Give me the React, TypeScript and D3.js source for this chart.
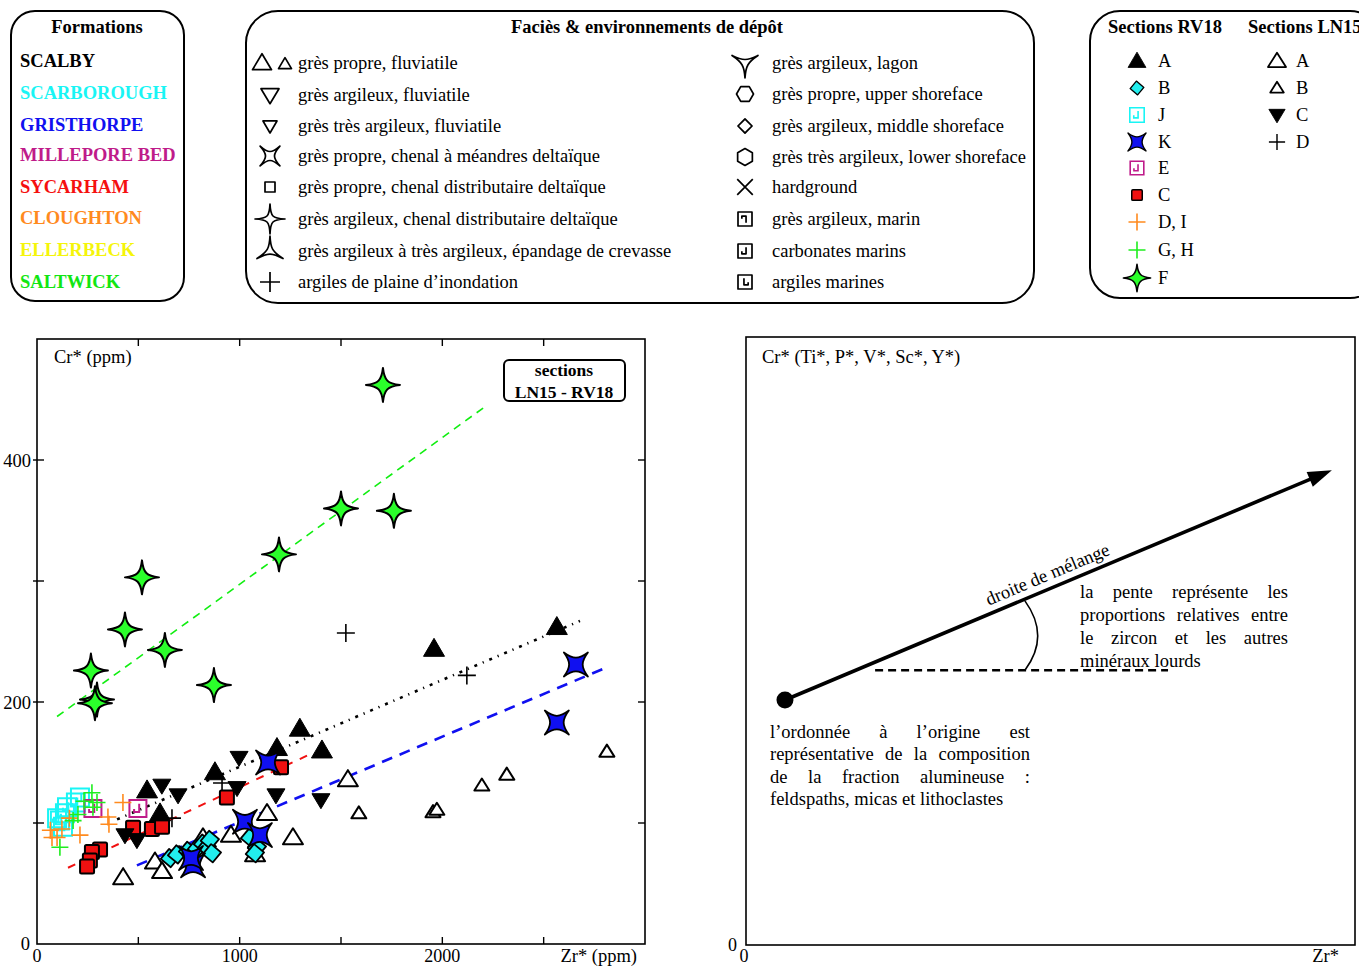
import React from 'react';
import * as d3 from 'd3';

const FONT = "'Liberation Serif', 'Times New Roman', Times, serif";

// ---------------- Data : Zr* (ppm), Cr* (ppm) ----------------
const rv18_F = [[1707, 462], [1500, 360], [1761, 358], [1194, 322], [518, 303], [434, 260], [631, 243], [266, 226], [296, 202], [286, 199], [873, 214]];
const rv18_A = [[2565, 262], [1959, 244], [1297, 178], [1406, 160], [1184, 162], [878, 142], [543, 127], [607, 108]];
const ln15_C = [[616, 131], [696, 123], [434, 90], [493, 86], [997, 154], [987, 129], [1179, 123], [1401, 119]];
const ln15_A = [[425, 55], [582, 68], [617, 60], [957, 90], [1135, 108], [1263, 88], [1076, 74], [819, 88], [1534, 136]];
const ln15_B = [[1588, 108], [1954, 109], [1973, 111], [2195, 131], [2318, 140], [2812, 159]];
const ln15_D = [[1524, 257], [2121, 222], [913, 133], [666, 104]];
const rv18_K = [[2659, 231], [2565, 183], [1140, 150], [1026, 101], [1100, 90], [770, 65], [760, 71]];
const rv18_B = [[656, 71], [691, 74], [745, 77], [789, 79], [819, 83], [838, 80], [853, 86], [863, 75], [1051, 88], [1085, 80], [1075, 75]];
const rv18_C = [[1204, 146], [937, 121], [474, 96], [567, 95], [617, 97], [311, 78], [271, 76], [261, 69], [247, 64]];
const rv18_E = [[498, 112], [276, 112]];
const rv18_J = [[99, 104], [113, 102], [128, 97], [138, 108], [148, 113], [192, 117], [212, 121]];
const rv18_DI = [[74, 88], [66, 94], [99, 88], [123, 95], [160, 104], [212, 90], [350, 105], [355, 99], [424, 117]];
const rv18_GH = [[113, 80], [178, 102], [202, 107], [232, 118], [271, 125], [276, 113], [296, 117]];

// trend lines (start, end)
const trendSaltwick = [[99, 188], [2210, 444]];
const trendScalby = [[395, 103], [2679, 267]];
const trendSycarham = [[153, 63], [1362, 158]];
const trendGristhorpe = [[493, 65], [2817, 229]];

const xTicks = [0, 500, 1000, 1500, 2000, 2500, 3000];
const xTickLabels = [0, 1000, 2000];
const yTicks = [0, 100, 200, 300, 400, 500];
const yTickLabels = [0, 200, 400];

// legend content
const formations = [
  ['SCALBY', '#000000'], ['SCARBOROUGH', '#19f5f5'], ['GRISTHORPE', '#1010f0'], ['MILLEPORE BED', '#bf1b8a'],
  ['SYCARHAM', '#f51010'], ['CLOUGHTON', '#ff8a1e'], ['ELLERBECK', '#f5f50a'], ['SALTWICK', '#12e612'],
];
const faciesLeft = [
  ['triPair', 'grès propre, fluviatile'],
  ['triDownL', 'grès argileux, fluviatile'],
  ['triDownS', 'grès très argileux, fluviatile'],
  ['xstar', 'grès propre, chenal à méandres deltaïque'],
  ['sq', 'grès propre, chenal distributaire deltaïque'],
  ['star4', 'grès argileux, chenal distributaire deltaïque'],
  ['star3up', 'grès argileux à très argileux, épandage de crevasse'],
  ['plus', 'argiles de plaine d’inondation'],
];
const faciesRight = [
  ['star3down', 'grès argileux, lagon'],
  ['hexFlat', 'grès propre, upper shoreface'],
  ['diamondS', 'grès argileux, middle shoreface'],
  ['hexPoint', 'grès très argileux, lower shoreface'],
  ['cross', 'hardground'],
  ['spiral1', 'grès argileux, marin'],
  ['spiral2', 'carbonates marins'],
  ['spiral3', 'argiles marines'],
];
const sectionsRV18 = [
  ['A', 'A'], ['B', 'B'], ['J', 'J'], ['K', 'K'], ['E', 'E'], ['C', 'C'], ['DI', 'D, I'], ['GH', 'G, H'], ['F', 'F'],
];
const sectionsLN15 = [['lA', 'A'], ['lB', 'B'], ['lC', 'C'], ['lD', 'D']];

// schematic (right panel), normalised units
const mixOrigin = [0.064, 0.403];
const mixEnd = [0.962, 0.781];
const horizontalRef = [[0.212, 0.452], [0.693, 0.452]];
const angleArc = [[0.458, 0.566], [0.500, 0.508], [0.458, 0.452]];
const textSlope = ['la pente représente les', 'proportions relatives entre', 'le zircon et les autres', 'minéraux lourds'];
const textOrigin = ['l’ordonnée à l’origine est', 'représentative de la composition', 'de la fraction alumineuse :', 'feldspaths, micas et lithoclastes'];

// ---------------- scales ----------------
const xL = d3.scaleLinear().domain([0, 3000]).range([37, 645]);
const yL = d3.scaleLinear().domain([0, 500]).range([944, 339]);
const xR = d3.scaleLinear().domain([0, 1]).range([746, 1355]);
const yR = d3.scaleLinear().domain([0, 1]).range([945, 337]);

// ---------------- shapes ----------------
const triUp = (w: number, h: number) => `M0,${-h * 0.58}L${w / 2},${h * 0.42}L${-w / 2},${h * 0.42}Z`;
const triDown = (w: number, h: number) => `M0,${h * 0.58}L${w / 2},${-h * 0.42}L${-w / 2},${-h * 0.42}Z`;
// concave star with n points
const starN = (n: number, R: number, k1: number, k2: number, rot: number) => {
  let d = '';
  const P = (ang: number, r: number) => [r * Math.cos((ang * Math.PI) / 180), r * Math.sin((ang * Math.PI) / 180)];
  const step = 360 / n;
  for (let i = 0; i < n; i++) {
    const a = rot + i * step;
    const b = a + step;
    const p0 = P(a, R);
    const p1 = P(b, R);
    const c1 = P(a, R * k1).map((v, j) => v + P(a + 90, R * k2)[j]);
    const c2 = P(b, R * k1).map((v, j) => v + P(b - 90, R * k2)[j]);
    if (i === 0) d += `M${p0[0]},${p0[1]}`;
    d += `C${c1[0]},${c1[1]} ${c2[0]},${c2[1]} ${p1[0]},${p1[1]}`;
  }
  return d + 'Z';
};
const hex = (r: number, rot: number) => {
  const pts = d3.range(6).map((i) => {
    const a = ((rot + i * 60) * Math.PI) / 180;
    return [r * Math.cos(a), r * Math.sin(a)];
  });
  return 'M' + pts.map((p) => p.join(',')).join('L') + 'Z';
};
const spiral = (s: number) =>
  `M${-s},${-s}H${s}V${s}H${-s}Z M${s * 0.15},${-s * 0.55}V${s * 0.4}H${-s * 0.45}V${s * 0.05}`;
const plus = (s: number) => `M${-s},0H${s}M0,${-s}V${s}`;

function Marker({ type, x, y }: { type: string; x: number; y: number }) {
  const t = `translate(${x},${y})`;
  switch (type) {
    case 'A':
      return <path transform={t} d={triUp(21, 18)} fill="#000" stroke="#000" strokeWidth={1} />;
    case 'lA':
      return <path transform={t} d={triUp(20, 16)} fill="#fff" stroke="#000" strokeWidth={2} strokeLinejoin="round" />;
    case 'lB':
      return <path transform={t} d={triUp(15, 12)} fill="#fff" stroke="#000" strokeWidth={2} strokeLinejoin="round" />;
    case 'lC':
      return <path transform={t} d={triDown(18, 15)} fill="#000" stroke="#000" strokeWidth={1} />;
    case 'lD':
      return <path transform={t} d={plus(9)} stroke="#000" strokeWidth={1.6} fill="none" />;
    case 'B':
      return <path transform={t + ' rotate(40)'} d="M-6.5,-6.5H6.5V6.5H-6.5Z" fill="#22eeee" stroke="#000" strokeWidth={1.8} strokeLinejoin="round" />;
    case 'C':
      return <rect transform={t} x={-7} y={-7} width={14} height={14} rx={1.5} fill="#f01010" stroke="#000" strokeWidth={2} />;
    case 'K':
      return <path transform={t} d={starN(4, 17, 0.32, 0.1, 45)} fill="#1010f0" stroke="#000" strokeWidth={1.8} strokeLinejoin="round" />;
    case 'F':
      return <path transform={t} d={starN(4, 17, 0.27, 0.08, -90)} fill="#2bff2b" stroke="#000" strokeWidth={2} strokeLinejoin="round" />;
    case 'E':
      return <path transform={t} d={spiral(8.5)} fill="none" stroke="#bf1b8a" strokeWidth={2} />;
    case 'J':
      return <path transform={t} d={spiral(9)} fill="none" stroke="#19f5f5" strokeWidth={2} />;
    case 'DI':
      return <path transform={t} d={plus(8.5)} stroke="#ff8a1e" strokeWidth={1.6} fill="none" />;
    case 'GH':
      return <path transform={t} d={plus(8.5)} stroke="#1fee1f" strokeWidth={1.6} fill="none" />;
    default:
      return null;
  }
}

function FaciesSymbol({ type, x, y }: { type: string; x: number; y: number }) {
  const t = `translate(${x},${y})`;
  const st = { fill: 'none', stroke: '#000', strokeWidth: 1.7, strokeLinejoin: 'round' as const };
  switch (type) {
    case 'triPair':
      return (
        <g>
          <path transform={`translate(${x - 8},${y})`} d={triUp(19, 16)} {...st} />
          <path transform={`translate(${x + 15},${y + 1})`} d={triUp(13, 11)} {...st} />
        </g>
      );
    case 'triDownL':
      return <path transform={t} d={triDown(18, 15)} {...st} />;
    case 'triDownS':
      return <path transform={t} d={triDown(14, 12)} {...st} />;
    case 'xstar':
      return <path transform={t} d={starN(4, 14, 0.22, 0.05, 45)} {...st} />;
    case 'sq':
      return <rect x={x - 5} y={y - 5} width={10} height={10} {...st} />;
    case 'star4':
      return <path transform={t} d={starN(4, 15, 0.16, 0.04, -90)} {...st} />;
    case 'star3up':
      return <path transform={t} d={starN(3, 15, 0.16, 0.04, -90)} {...st} />;
    case 'plus':
      return <path transform={t} d={plus(10)} {...st} />;
    case 'star3down':
      return <path transform={t} d={starN(3, 15, 0.2, 0.05, 90)} {...st} />;
    case 'hexFlat':
      return <path transform={t} d={hex(8.5, 0)} {...st} />;
    case 'diamondS':
      return <path transform={t + ' rotate(45)'} d="M-5,-5H5V5H-5Z" {...st} />;
    case 'hexPoint':
      return <path transform={t} d={hex(8.5, 90)} {...st} />;
    case 'cross':
      return <path transform={t + ' rotate(45)'} d={plus(11)} {...st} />;
    case 'spiral1':
      return <path transform={t + ' scale(1,-1)'} d={spiral(7)} {...st} />;
    case 'spiral2':
      return <path transform={t} d={spiral(7)} {...st} />;
    case 'spiral3':
      return <path transform={t + ' scale(-1,1)'} d={spiral(7)} {...st} />;
    default:
      return null;
  }
}

let measureCtx: CanvasRenderingContext2D | null = null;
function measure(text: string, font: string) {
  if (!measureCtx) measureCtx = document.createElement('canvas').getContext('2d');
  if (!measureCtx) return text.length * 8;
  measureCtx.font = font;
  return measureCtx.measureText(text).width;
}

function Justified({ x, y, width, text, justify, size }: { x: number; y: number; width: number; text: string; justify: boolean; size: number }) {
  if (!justify) return <text x={x} y={y} fontSize={size}>{text}</text>;
  const words = text.split(' ');
  const font = `${size}px 'Liberation Serif'`;
  const ws = words.map((w) => measure(w, font));
  const total = ws.reduce((a, b) => a + b, 0);
  const gap = (width - total) / (words.length - 1);
  let cx = x;
  return (
    <g fontSize={size}>
      {words.map((w, i) => {
        const last = i === words.length - 1;
        const el = (
          <text key={i} x={last ? x + width : cx} y={y} textAnchor={last ? 'end' : 'start'}>
            {w}
          </text>
        );
        cx += ws[i] + gap;
        return el;
      })}
    </g>
  );
}

const lineGen = d3.line<number[]>().x((d) => xL(d[0])).y((d) => yL(d[1]));
const FS = 18.5;

export default function App() {
  const series: [string, number[][]][] = [
    ['lA', ln15_A],
    ['lB', ln15_B],
    ['lD', ln15_D],
    ['B', rv18_B],
    ['C', rv18_C],
    ['lC', ln15_C],
    ['A', rv18_A],
    ['K', rv18_K],
    ['J', rv18_J],
    ['E', rv18_E],
    ['DI', rv18_DI],
    ['GH', rv18_GH],
    ['F', rv18_F],
  ];

  const ox = xR(mixOrigin[0]), oy = yR(mixOrigin[1]);
  const ex = xR(mixEnd[0]), ey = yR(mixEnd[1]);
  const ang = (Math.atan2(ey - oy, ex - ox) * 180) / Math.PI;
  const len = Math.hypot(ex - ox, ey - oy);
  const lblT = 0.49;
  const lx = ox + (ex - ox) * lblT, ly = oy + (ey - oy) * lblT;

  const legendScale: Record<string, number> = { A: 0.85, B: 0.75, J: 0.8, K: 0.75, E: 0.8, C: 0.75, DI: 1, GH: 1, F: 0.8 };

  return (
    <svg width={1359} height={967} style={{ position: 'absolute', left: 0, top: 0, background: '#fff' }} fontFamily={FONT}>
      <rect x={0} y={0} width={1359} height={967} fill="#fff" />
      {/* ---------- Legend 1 : Formations ---------- */}
      <rect x={11} y={11} width={173} height={290} rx={24} fill="none" stroke="#000" strokeWidth={2} />
      <text x={97} y={33} textAnchor="middle" fontSize={FS} fontWeight="bold">Formations</text>
      {formations.map(([name, col], i) => (
        <text key={name} x={20} y={[67, 99, 131, 161, 193, 224, 256, 288][i]} fontSize={FS} fontWeight="bold" fill={col}>{name}</text>
      ))}

      {/* ---------- Legend 2 : Facies ---------- */}
      <rect x={246} y={11} width={788} height={292} rx={32} fill="none" stroke="#000" strokeWidth={2} />
      <text x={647} y={33} textAnchor="middle" fontSize={FS} fontWeight="bold">Faciès &amp; environnements de dépôt</text>
      {faciesLeft.map(([sym, lab], i) => {
        const cy = [63, 95, 126, 156, 187, 219, 251, 282][i];
        return (
          <g key={lab}>
            <FaciesSymbol type={sym} x={270} y={cy} />
            <text x={298} y={cy + 6} fontSize={FS}>{lab}</text>
          </g>
        );
      })}
      {faciesRight.map(([sym, lab], i) => {
        const cy = [63, 94, 126, 157, 187, 219, 251, 282][i];
        return (
          <g key={lab}>
            <FaciesSymbol type={sym} x={745} y={cy} />
            <text x={772} y={cy + 6} fontSize={FS}>{lab}</text>
          </g>
        );
      })}

      {/* ---------- Legend 3 : Sections ---------- */}
      <rect x={1090} y={11} width={290} height={287} rx={30} fill="none" stroke="#000" strokeWidth={2} />
      <text x={1108} y={33} fontSize={FS} fontWeight="bold">Sections RV18</text>
      <text x={1248} y={33} fontSize={FS} fontWeight="bold">Sections LN15</text>
      {sectionsRV18.map(([sym, lab], i) => {
        const cy = [61, 88, 115, 142, 168, 195, 222, 250, 278][i];
        return (
          <g key={sym}>
            <g transform={`translate(1137,${cy}) scale(${legendScale[sym]})`}>
              <Marker type={sym} x={0} y={0} />
            </g>
            <text x={1158} y={cy + 6} fontSize={FS}>{lab}</text>
          </g>
        );
      })}
      {sectionsLN15.map(([sym, lab], i) => {
        const cy = [61, 88, 115, 142][i];
        return (
          <g key={sym}>
            <g transform={`translate(1277,${cy}) scale(0.9)`}>
              <Marker type={sym} x={0} y={0} />
            </g>
            <text x={1296} y={cy + 6} fontSize={FS}>{lab}</text>
          </g>
        );
      })}

      {/* ---------- Left plot ---------- */}
      <rect x={xL(0)} y={yL(500)} width={xL(3000) - xL(0)} height={yL(0) - yL(500)} fill="none" stroke="#000" strokeWidth={1.6} />
      {xTicks.slice(1, -1).map((v) => (
        <g key={'xt' + v}>
          <line x1={xL(v)} x2={xL(v)} y1={yL(0)} y2={yL(0) - 7} stroke="#000" strokeWidth={1.4} />
          <line x1={xL(v)} x2={xL(v)} y1={yL(500)} y2={yL(500) + 7} stroke="#000" strokeWidth={1.4} />
        </g>
      ))}
      {yTicks.slice(1, -1).map((v) => (
        <g key={'yt' + v}>
          <line x1={xL(0) - 4} x2={xL(0) + 7} y1={yL(v)} y2={yL(v)} stroke="#000" strokeWidth={1.4} />
          <line x1={xL(3000)} x2={xL(3000) - 7} y1={yL(v)} y2={yL(v)} stroke="#000" strokeWidth={1.4} />
        </g>
      ))}
      {xTickLabels.map((v) => (
        <text key={'xl' + v} x={xL(v)} y={962} textAnchor="middle" fontSize={18}>{v}</text>
      ))}
      {yTickLabels.map((v) => (
        <text key={'yl' + v} x={v === 0 ? 30 : 31} y={yL(v) + (v === 0 ? 6 : 7)} textAnchor="end" fontSize={18.5}>{v}</text>
      ))}
      <text x={54} y={363} fontSize={FS}>Cr* (ppm)</text>
      <text x={637} y={962} textAnchor="end" fontSize={FS}>Zr* (ppm)</text>
      <rect x={504} y={360} width={121} height={41} rx={5} fill="#fff" stroke="#000" strokeWidth={2} />
      <text x={564} y={376} textAnchor="middle" fontSize={17.5} fontWeight="bold">sections</text>
      <text x={564} y={398} textAnchor="middle" fontSize={17.5} fontWeight="bold">LN15 - RV18</text>

      {/* trend lines */}
      <path d={lineGen(trendSaltwick) || ''} stroke="#11ee11" strokeWidth={1.6} strokeDasharray="8,6" fill="none" />
      <path d={lineGen(trendScalby) || ''} stroke="#000" strokeWidth={2.6} strokeDasharray="3,6,1.2,6" fill="none" />
      <path d={lineGen(trendSycarham) || ''} stroke="#f01010" strokeWidth={2} strokeDasharray="8,8" fill="none" />
      <path d={lineGen(trendGristhorpe) || ''} stroke="#1010f0" strokeWidth={2.6} strokeDasharray="11,8" fill="none" />

      {series.map(([type, pts]) =>
        pts.map((p, i) => <Marker key={type + i} type={type} x={xL(p[0])} y={yL(p[1])} />)
      )}

      {/* ---------- Right plot ---------- */}
      <rect x={xR(0)} y={yR(1)} width={xR(1) - xR(0)} height={yR(0) - yR(1)} fill="none" stroke="#000" strokeWidth={1.6} />
      <text x={762} y={363} fontSize={FS}>Cr* (Ti*, P*, V*, Sc*, Y*)</text>
      <text x={737} y={951} textAnchor="end" fontSize={18}>0</text>
      <text x={744} y={962} textAnchor="middle" fontSize={18}>0</text>
      <text x={1339} y={962} textAnchor="end" fontSize={FS}>Zr*</text>

      <line x1={xR(horizontalRef[0][0])} x2={xR(horizontalRef[1][0])} y1={yR(horizontalRef[0][1])} y2={yR(horizontalRef[1][1])}
        stroke="#000" strokeWidth={2.5} strokeDasharray="8,5" />
      <path d={`M${xR(angleArc[0][0])},${yR(angleArc[0][1])}Q${xR(angleArc[1][0])},${yR(angleArc[1][1])} ${xR(angleArc[2][0])},${yR(angleArc[2][1])}`}
        fill="none" stroke="#000" strokeWidth={1.6} />
      <g transform={`translate(${ox},${oy}) rotate(${ang})`}>
        <line x1={0} y1={0} x2={len - 18} y2={0} stroke="#000" strokeWidth={3.6} />
        <path d={`M${len},0L${len - 24},-8L${len - 24},8Z`} fill="#000" />
      </g>
      <circle cx={ox} cy={oy} r={8.5} fill="#000" />
      <text transform={`translate(${lx},${ly}) rotate(${ang})`} x={0} y={-8} textAnchor="middle" fontSize={FS}>droite de mélange</text>

      {textSlope.map((l, i) => (
        <Justified key={l} x={1080} y={598 + i * 23} width={208} text={l} justify={i < textSlope.length - 1} size={18.5} />
      ))}
      {textOrigin.map((l, i) => (
        <Justified key={l} x={770} y={738 + i * 22.3} width={260} text={l} justify={i < textOrigin.length - 1} size={18.5} />
      ))}
    </svg>
  );
}
